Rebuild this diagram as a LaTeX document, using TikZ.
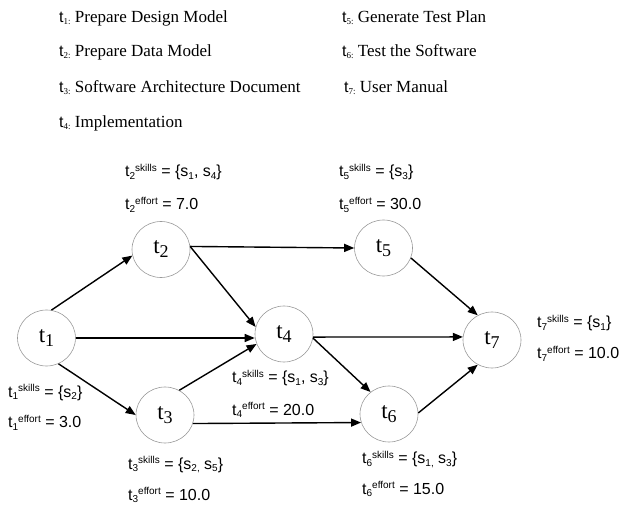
\documentclass[tikz,border=0pt]{standalone}
\usepackage{fontspec}
\setmainfont{Liberation Serif}
\setsansfont{Liberation Sans}
\usetikzlibrary{arrows.meta,shapes.geometric}
\newcommand{\fs}[1]{\fontsize{#1}{#1}\selectfont}
\newcommand{\legt}[1]{{\sffamily\fs{16}t}\raisebox{-2pt}{\fs{9}#1}}
\newcommand{\nt}[1]{\fs{23}t\raisebox{-4pt}{\fs{18}#1}}
\newcommand{\lt}[2]{t\raisebox{-2.5pt}{\fs{10}#1}\raisebox{5.5pt}{\fs{10}#2}}
\newcommand{\ls}[1]{s\raisebox{-2.5pt}{\fs{10}#1}}
\tikzset{
  task/.style={ellipse, draw=gray!80, line width=0.6pt, minimum width=58pt, minimum height=56pt, inner sep=0pt},
  arr/.style={-{Triangle[length=10pt,width=8pt]}, line width=1.4pt, black},
  legend/.style={anchor=base west, inner sep=0pt, font=\fs{17}},
  lab/.style={anchor=base west, inner sep=0pt, font=\sffamily\fs{16}}
}
\begin{document}
\begin{tikzpicture}[x=1pt,y=-1pt]
\useasboundingbox (0,0) rectangle (625,508);
% legend
\node[legend] (l1) at (59,23) {\legt{1:} Prepare Design Model};
\node[legend] (l2) at (59,57) {\legt{2:} Prepare Data Model};
\node[legend] (l3) at (59,93) {\legt{3:} Software Architecture Document};
\node[legend] (l4) at (59,128) {\legt{4:} Implementation};
\node[legend] (l5) at (342,23) {\legt{5:} Generate Test Plan};
\node[legend] (l6) at (342,57) {\legt{6:} Test the Software};
\node[legend] (l7) at (344,93) {\legt{7:} User Manual};
% tasks
\node[task] (t1) at (46.5,338) {\nt{1}};
\node[task] (t2) at (161,249.5) {\nt{2}};
\node[task] (t3) at (165,415) {\nt{3}};
\node[task] (t4) at (284,334) {\nt{4}};
\node[task] (t5) at (383.5,248) {\nt{5}};
\node[task] (t6) at (389,414) {\nt{6}};
\node[task] (t7) at (492,340) {\nt{7}};
% edges
\draw[arr] (t1.80) -- (t2.192);
\draw[arr] (t1.east) -- (t1.east -| t4.west);
\draw[arr] (t1.-65) -- (t3.180);
\draw[arr] (t2.6) -- (t4.166);
\draw[arr] (t2.6) -- (t5.180);
\draw[arr] (t3.60) -- (t4.-160);
\draw[arr] (t3.-17) -- (t6.-163);
\draw[arr] (t4.-8) -- (t6.130);
\draw[arr] (t4.-6) -- (t7.174);
\draw[arr] (t5.-20) -- (t7.120);
\draw[arr] (t6.2) -- (t7.-120);
% labels
\node[lab] (s1) at (8,397) {\lt{1}{skills} = \{\ls{2}\}};
\node[lab] (e1) at (8,428) {\lt{1}{effort} = 3.0};
\node[lab] (s2) at (125,177) {\lt{2}{skills} = \{\ls{1}, \ls{4}\}};
\node[lab] (e2) at (125,210) {\lt{2}{effort} = 7.0};
\node[lab] (s5) at (339,177) {\lt{5}{skills} = \{\ls{3}\}};
\node[lab] (e5) at (339,210) {\lt{5}{effort} = 30.0};
\node[lab] (s4) at (232,383) {\lt{4}{skills} = \{\ls{1}, \ls{3}\}};
\node[lab] (e4) at (232,415) {\lt{4}{effort} = 20.0};
\node[lab] (s3) at (128,469) {\lt{3}{skills} = \{\ls{2,} \ls{5}\}};
\node[lab] (e3) at (128,500) {\lt{3}{effort} = 10.0};
\node[lab] (s6) at (362,464) {\lt{6}{skills} = \{\ls{1,} \ls{3}\}};
\node[lab] (e6) at (362,494) {\lt{6}{effort} = 15.0};
\node[lab] (s7) at (537,328) {\lt{7}{skills} = \{\ls{1}\}};
\node[lab] (e7) at (537,359) {\lt{7}{effort} = 10.0};
\end{tikzpicture}
\end{document}
